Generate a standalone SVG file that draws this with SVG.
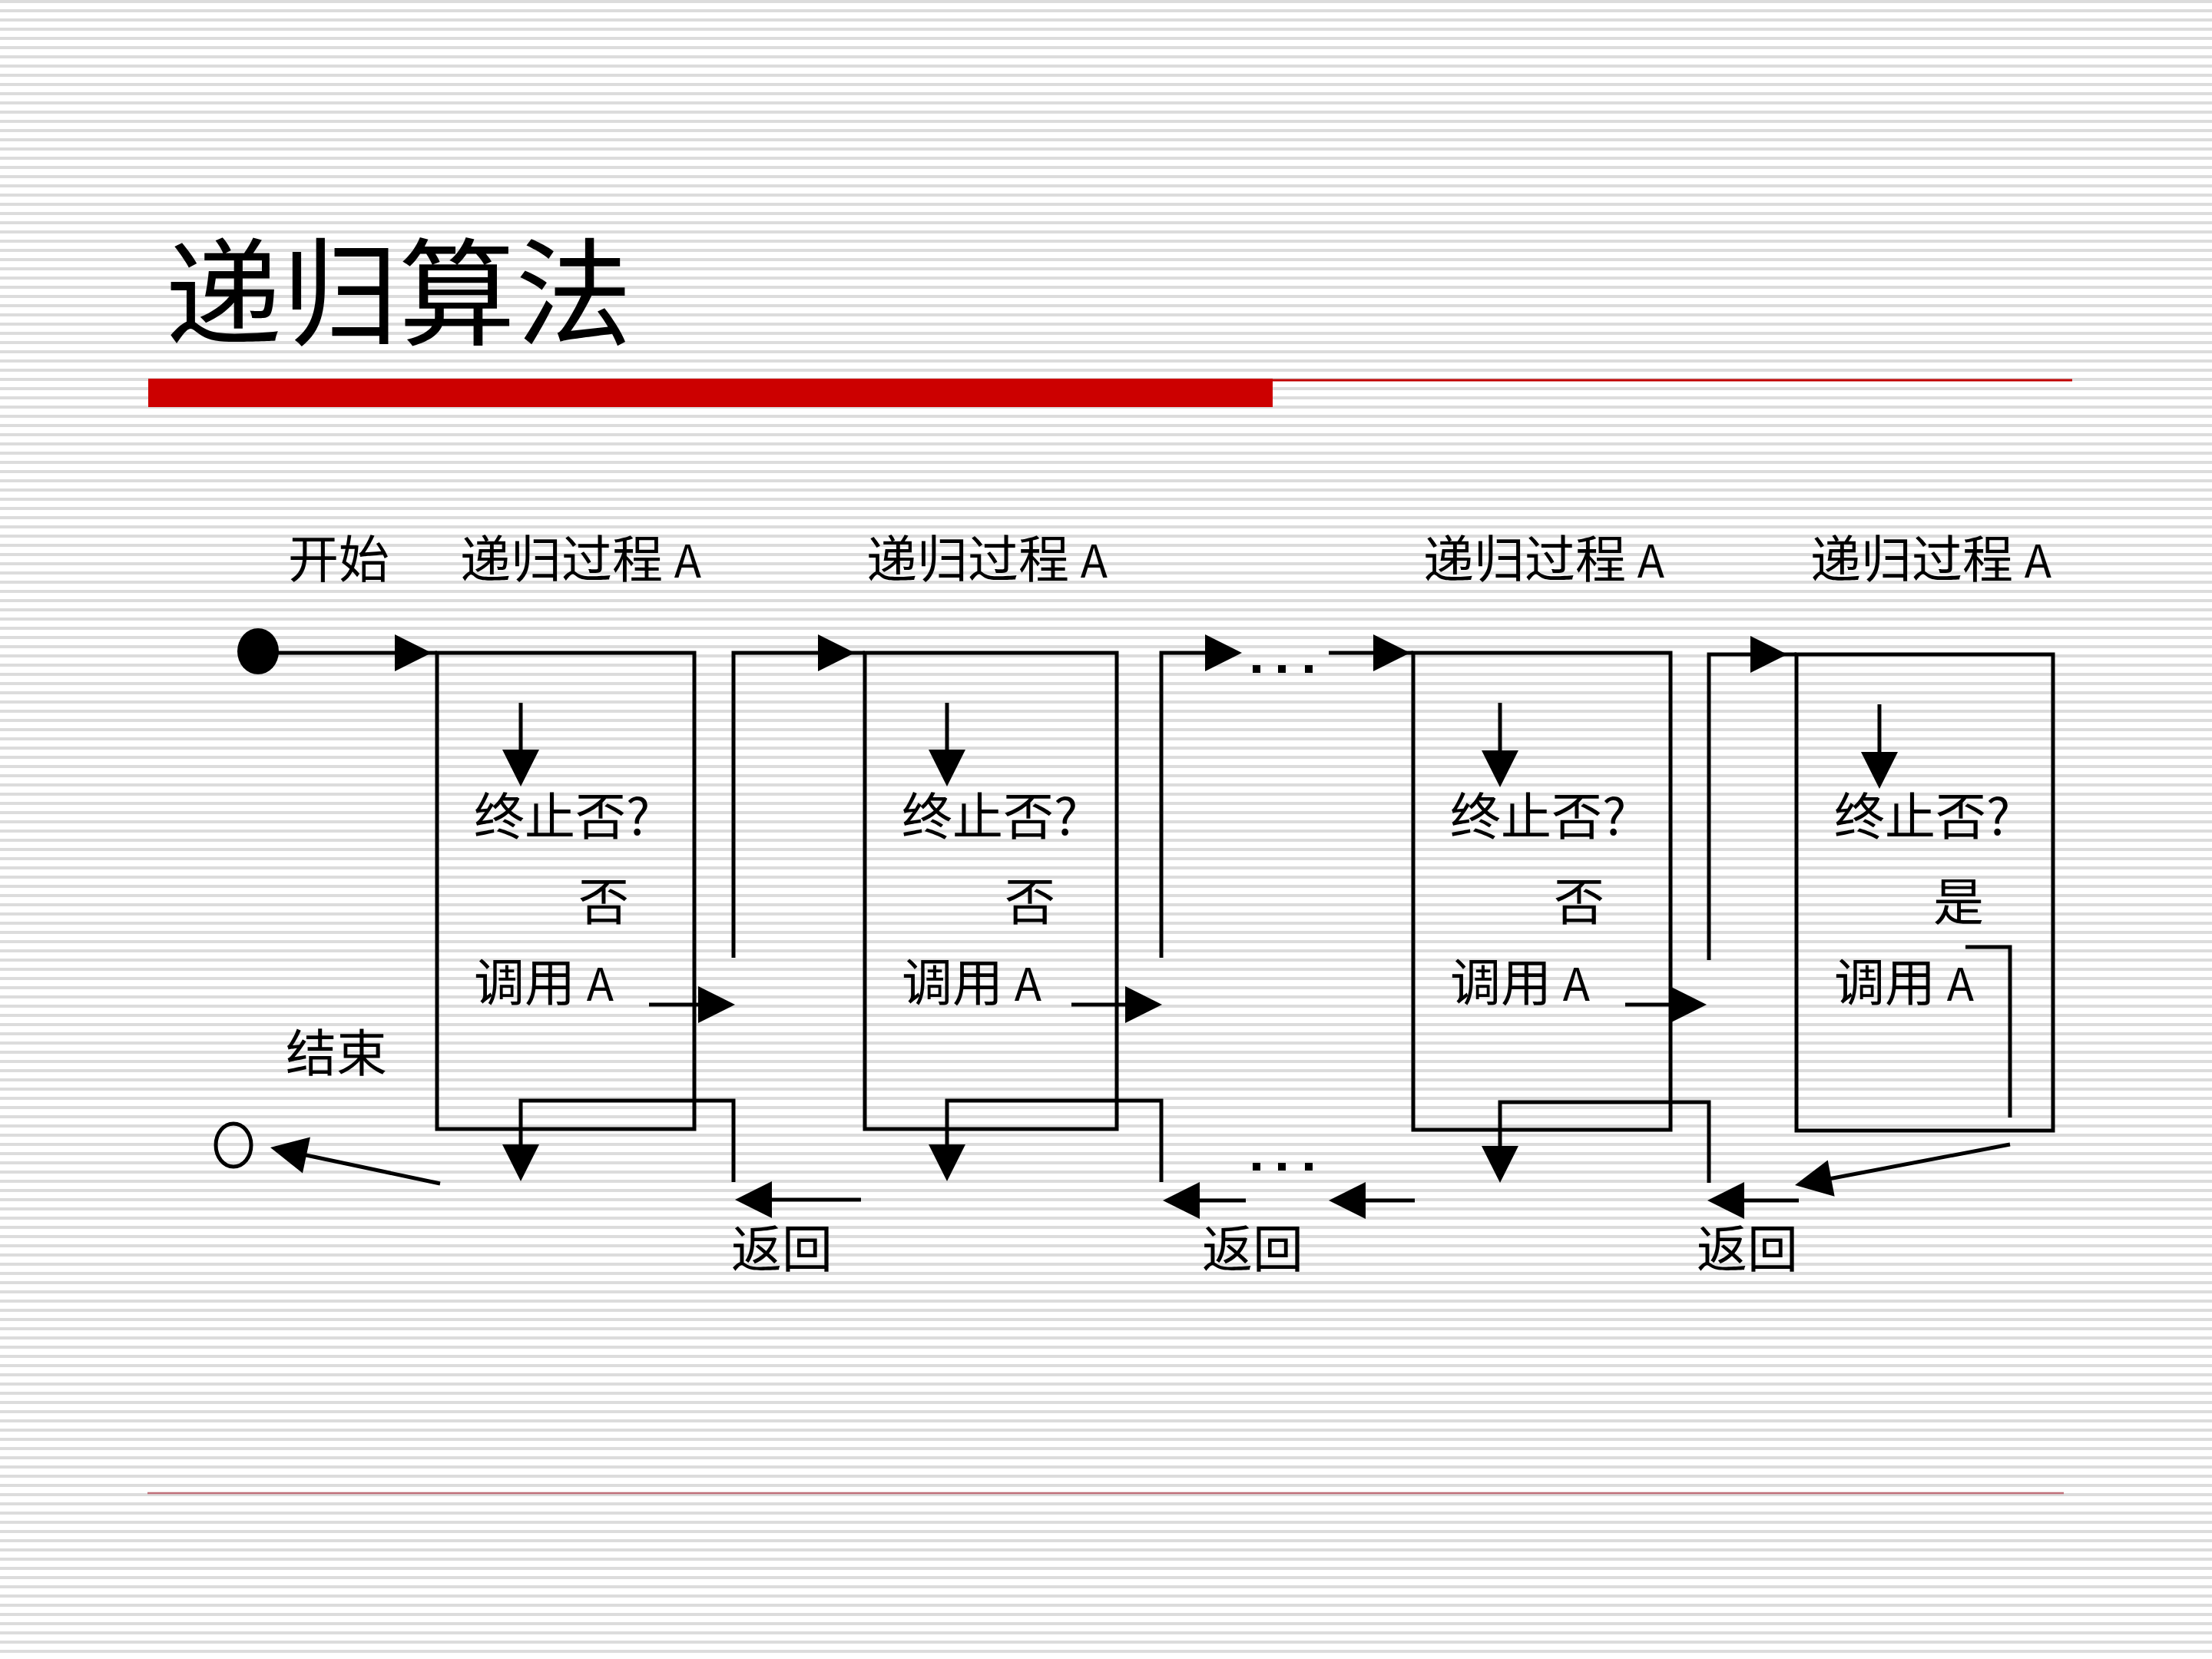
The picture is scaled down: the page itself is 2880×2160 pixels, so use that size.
<svg xmlns="http://www.w3.org/2000/svg" xmlns:xlink="http://www.w3.org/1999/xlink" width="2880" height="2160" viewBox="0 0 2880 2160">
<defs>
<pattern id="stripes" x="0" y="0" width="2880" height="12" patternUnits="userSpaceOnUse">
<rect x="0" y="0" width="2880" height="4" fill="#dcdcdc"/>
</pattern>
<path id="ah" d="M0,0 L-48,-24 L-48,24 Z"/>
</defs>
<style>
.ln{fill:none;stroke:#000;stroke-width:5;stroke-linecap:butt;stroke-linejoin:miter}
.bx{fill:none;stroke:#000;stroke-width:5}
.lbl{font-family:"Noto Sans CJK SC","Noto Sans",sans-serif;font-size:66px;fill:#000}
.a{font-size:58px}
.hd{fill:#000}
.dot{fill:#000}
</style>
<rect x="0" y="0" width="2880" height="2160" fill="#ffffff"/>
<rect x="0" y="0" width="2880" height="2160" fill="url(#stripes)"/>

<g id="title">
<text x="215" y="438" font-family="'Noto Sans CJK SC',sans-serif" font-size="152" fill="#000">递归算法</text>
<rect x="193" y="493" width="1464" height="37" fill="#cc0000"/>
<line x1="1657" y1="495" x2="2698" y2="495" stroke="#c00000" stroke-width="3"/>
<line x1="192" y1="1944" x2="2687" y2="1944" stroke="#c0707a" stroke-width="2.5"/>
</g>

<g id="start">
<ellipse cx="336" cy="848" rx="27" ry="30" fill="#000"/>
<text class="lbl" x="375" y="752">开始</text>
</g>

<g id="end">
<ellipse cx="304" cy="1491" rx="23" ry="28" fill="none" stroke="#000" stroke-width="5"/>
<text class="lbl" x="372" y="1395">结束</text>
</g>

<g id="box1">
<rect class="bx" x="569" y="850" width="335" height="620"/>
<text class="lbl" x="599" y="752">递归过程 <tspan class="a">A</tspan></text>
<text class="lbl" x="617" y="1087">终止否?</text>
<text class="lbl" x="753" y="1198">否</text>
<text class="lbl" x="617" y="1303">调用 <tspan class="a">A</tspan></text>
</g>

<g id="box2">
<rect class="bx" x="1126" y="850" width="328" height="620"/>
<text class="lbl" x="1128" y="752">递归过程 <tspan class="a">A</tspan></text>
<text class="lbl" x="1174" y="1087">终止否?</text>
<text class="lbl" x="1308" y="1198">否</text>
<text class="lbl" x="1174" y="1303">调用 <tspan class="a">A</tspan></text>
</g>

<g id="box3">
<rect class="bx" x="1840" y="850" width="335" height="621"/>
<text class="lbl" x="1853" y="752">递归过程 <tspan class="a">A</tspan></text>
<text class="lbl" x="1888" y="1087">终止否?</text>
<text class="lbl" x="2023" y="1198">否</text>
<text class="lbl" x="1888" y="1303">调用 <tspan class="a">A</tspan></text>
</g>

<g id="box4">
<rect class="bx" x="2339" y="852" width="334" height="620"/>
<text class="lbl" x="2357" y="752">递归过程 <tspan class="a">A</tspan></text>
<text class="lbl" x="2388" y="1087">终止否?</text>
<text class="lbl" x="2517" y="1198">是</text>
<text class="lbl" x="2388" y="1303">调用 <tspan class="a">A</tspan></text>
</g>

<g id="return-labels">
<text class="lbl" x="952" y="1650">返回</text>
<text class="lbl" x="1565" y="1650">返回</text>
<text class="lbl" x="2209" y="1650">返回</text>
</g>

<g id="connectors">
<!-- start to box1 -->
<line class="ln" x1="336" y1="850" x2="569" y2="850"/>
<use href="#ah" transform="translate(562,850)"/>
<!-- inner down arrows -->
<line class="ln" x1="678" y1="915" x2="678" y2="1000"/>
<use href="#ah" transform="translate(678,1024) rotate(90)"/>
<line class="ln" x1="1233" y1="915" x2="1233" y2="1000"/>
<use href="#ah" transform="translate(1233,1024) rotate(90)"/>
<line class="ln" x1="1953" y1="915" x2="1953" y2="1000"/>
<use href="#ah" transform="translate(1953,1025) rotate(90)"/>
<line class="ln" x1="2447" y1="917" x2="2447" y2="1000"/>
<use href="#ah" transform="translate(2447,1027) rotate(90)"/>
<!-- call arrows -->
<line class="ln" x1="845" y1="1308" x2="930" y2="1308"/>
<use href="#ah" transform="translate(957,1308)"/>
<line class="ln" x1="1395" y1="1308" x2="1490" y2="1308"/>
<use href="#ah" transform="translate(1513,1308)"/>
<line class="ln" x1="2116" y1="1308" x2="2200" y2="1308"/>
<use href="#ah" transform="translate(2222,1308)"/>
<polyline class="ln" points="2559,1233 2617,1233 2617,1455"/>
<!-- entry connectors -->
<polyline class="ln" points="955,1247 955,850 1126,850"/>
<use href="#ah" transform="translate(1113,850)"/>
<polyline class="ln" points="1512,1247 1512,850 1600,850"/>
<use href="#ah" transform="translate(1617,850)"/>
<rect class="dot" x="1631" y="866" width="10" height="10"/>
<rect class="dot" x="1664" y="866" width="10" height="10"/>
<rect class="dot" x="1699" y="866" width="10" height="10"/>
<line class="ln" x1="1730" y1="850" x2="1840" y2="850"/>
<use href="#ah" transform="translate(1836,850)"/>
<polyline class="ln" points="2225,1250 2225,852 2339,852"/>
<use href="#ah" transform="translate(2327,852)"/>
<!-- return paths inside boxes -->
<polyline class="ln" points="955,1539 955,1433 678,1433 678,1515"/>
<use href="#ah" transform="translate(678,1538) rotate(90)"/>
<polyline class="ln" points="1512,1539 1512,1433 1233,1433 1233,1515"/>
<use href="#ah" transform="translate(1233,1538) rotate(90)"/>
<polyline class="ln" points="2225,1540 2225,1435 1953,1435 1953,1515"/>
<use href="#ah" transform="translate(1953,1540) rotate(90)"/>
<!-- return arrows -->
<line class="ln" x1="1121" y1="1562" x2="980" y2="1562"/>
<use href="#ah" transform="translate(957,1562) rotate(180)"/>
<line class="ln" x1="1622" y1="1563" x2="1535" y2="1563"/>
<use href="#ah" transform="translate(1514,1563) rotate(180)"/>
<rect class="dot" x="1631" y="1514" width="10" height="10"/>
<rect class="dot" x="1664" y="1514" width="10" height="10"/>
<rect class="dot" x="1699" y="1514" width="10" height="10"/>
<line class="ln" x1="1842" y1="1563" x2="1755" y2="1563"/>
<use href="#ah" transform="translate(1730,1563) rotate(180)"/>
<line class="ln" x1="2342" y1="1563" x2="2245" y2="1563"/>
<use href="#ah" transform="translate(2223,1563) rotate(180)"/>
<line class="ln" x1="2617" y1="1490" x2="2360" y2="1539"/>
<use href="#ah" transform="translate(2337,1543) rotate(169.3)"/>
<line class="ln" x1="573" y1="1541" x2="375" y2="1499"/>
<use href="#ah" transform="translate(352,1494) rotate(192)"/>
</g>
</svg>
